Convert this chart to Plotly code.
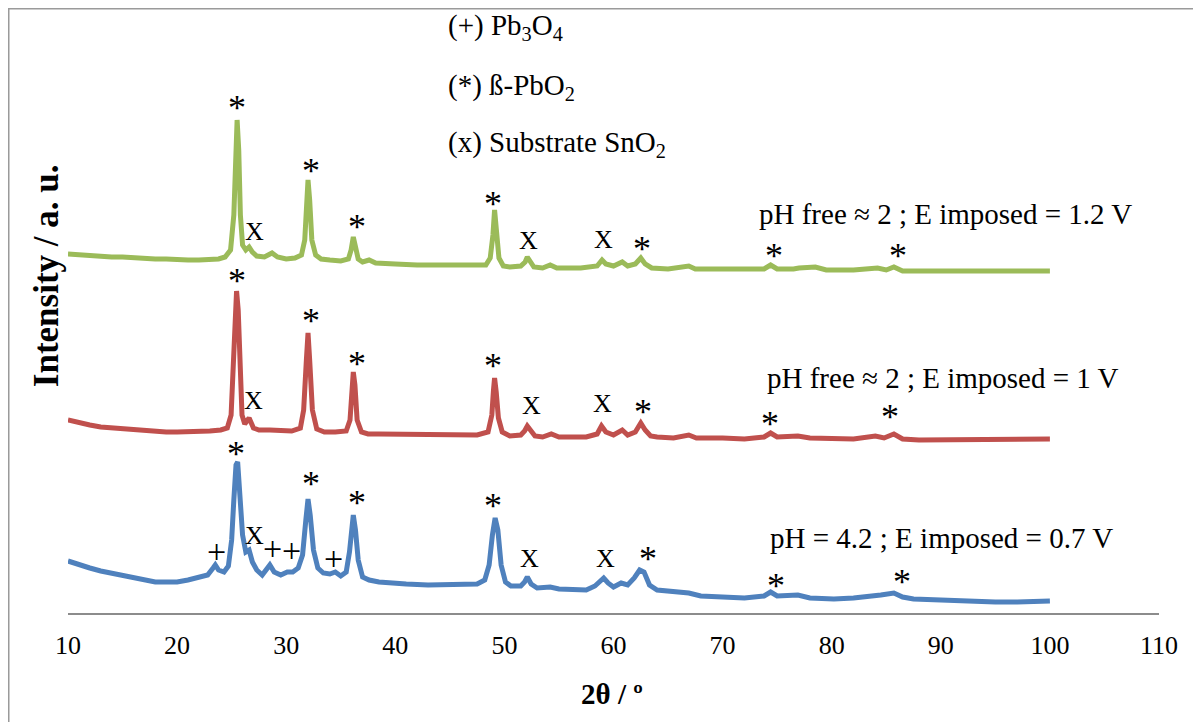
import plotly.graph_objects as go

# ---------------- data ----------------
# 2theta (deg) and intensity (a.u.) for each deposit
tt_green = [10.0, 11, 12, 13, 14, 15, 16, 17, 18, 19, 20, 21, 22, 23, 23.8, 24.4, 24.9, 25.2, 25.35, 25.5,
            25.65, 25.8, 26.0, 26.3, 26.6, 26.9, 27.3, 28.0, 28.7, 29.2, 30, 30.8, 31.4, 31.7, 31.9, 32.0,
            32.15, 32.35, 32.7, 33.2, 34, 35, 35.7, 35.95, 36.15, 36.35, 36.6, 37.0, 37.6, 38.2, 39, 40,
            42, 44, 46, 47, 48.3, 48.7, 48.95, 49.1, 49.25, 49.5, 49.9, 50.5, 51.5, 51.9, 52.1, 52.35,
            52.7, 53.5, 54.2, 54.8, 56, 57, 58.5, 58.95, 59.3, 60, 60.8, 61.3, 62.0, 62.5, 62.9, 63.5,
            65, 66.9, 67.5, 70, 72, 73.8, 74.4, 75, 76.5, 77, 78.5, 79.5, 82, 84.2, 85, 85.7, 86.5, 88,
            90, 93, 96, 98, 100]
int_green = [359, 358, 357, 357, 356, 356, 355, 355, 354, 354, 353, 353, 353, 354, 354, 356, 363, 398, 463, 493,
             463, 398, 368, 363, 366, 361, 357, 356, 360, 356, 354, 355, 358, 373, 413, 433,
             413, 373, 358, 354, 353, 352, 354, 363, 376, 363, 354, 351, 353, 350, 350, 349,
             348, 348, 347, 347, 348, 355, 378, 403, 378, 355, 347, 346, 347, 351, 356, 351,
             346, 345, 348, 345, 345, 345, 347, 353, 349, 347, 351, 347, 349, 355, 349, 345,
             344, 347, 344, 344, 343, 344, 348, 344, 344, 345, 346, 343, 343, 345, 343, 346, 342, 342,
             341, 341, 341, 341, 342]

tt_red = [10, 11, 12, 13, 14, 15, 16, 17, 18, 19, 20, 21, 22, 23, 24, 24.6, 24.95, 25.2, 25.35, 25.45,
          25.6, 25.75, 25.95, 26.2, 26.6, 27.0, 27.5, 28.5, 29.5, 30.5, 31.3, 31.6, 31.85, 32.0, 32.15,
          32.4, 32.8, 33.5, 34.5, 35.5, 35.85, 36.05, 36.15, 36.3, 36.5, 36.9, 37.5, 38.5, 40, 42, 44,
          46, 47.5, 48.5, 48.85, 49.0, 49.1, 49.25, 49.45, 49.8, 50.5, 51.5, 51.85, 52.1, 52.4, 52.8,
          53.5, 54.3, 55, 56, 57.5, 58.5, 58.9, 59.3, 60, 60.8, 61.3, 62.0, 62.5, 62.9, 63.4, 64, 65.5,
          66.9, 67.6, 70, 72, 73.8, 74.4, 75, 76.9, 78, 80, 82, 84, 84.8, 85.7, 86.5, 88, 90, 93, 96,
          98, 100]
int_red = [193, 190, 188, 186, 185, 184, 183, 182, 181, 181, 181, 181, 181, 182, 183, 185, 198, 253, 303, 322,
           303, 243, 198, 189, 195, 185, 183, 183, 182, 182, 185, 203, 253, 280, 253,
           203, 184, 181, 181, 182, 193, 228, 241, 228, 193, 181, 179, 179, 179, 178, 178,
           178, 178, 181, 198, 223, 235, 221, 195, 181, 177, 178, 182, 187, 182, 177,
           176, 179, 176, 176, 176, 179, 187, 181, 178, 183, 178, 181, 190, 183, 177, 176, 175,
           178, 175, 175, 174, 176, 180, 176, 177, 175, 174, 174, 177, 175, 179, 174, 173, 173, 173, 173,
           173, 174]

tt_blue = [10, 11, 12, 13, 14, 15, 16, 17, 18, 19, 20, 21, 22, 22.8, 23.3, 23.5, 23.8, 24.3, 24.7, 25.0,
           25.2, 25.4, 25.55, 25.75, 26.0, 26.3, 26.6, 26.9, 27.3, 27.8, 28.2, 28.5, 28.9, 29.5, 30.1,
           30.6, 31.1, 31.5, 31.8, 32.0, 32.2, 32.5, 32.9, 33.4, 34.0, 34.5, 35.0, 35.5, 35.8, 36.0,
           36.15, 36.35, 36.6, 37.0, 37.6, 38.5, 39.5, 41, 43, 45, 46.5, 47.5, 48.2, 48.6, 48.9, 49.15,
           49.4, 49.7, 50.1, 50.6, 51.5, 51.85, 52.1, 52.45, 53, 54.2, 55, 56.5, 57.5, 58.3, 58.8, 59.1,
           59.5, 60.0, 60.7, 61.3, 61.9, 62.4, 62.8, 63.3, 64, 65.5, 66.9, 68, 70, 72, 73.8, 74.4, 75,
           76.9, 78, 80.2, 82, 83.2, 84.5, 85.7, 86.5, 87.5, 89.4, 91, 93, 95, 97, 99, 100]
int_blue = [52, 48, 45, 42, 40, 38, 35, 33, 31, 31, 31, 33, 36, 38, 45, 48, 43, 41, 47, 73,
            113, 148, 151, 123, 78, 61, 63, 51, 43, 38, 43, 48, 41, 38, 41,
            41, 45, 58, 93, 114, 98, 63, 45, 40, 39, 41, 37, 41, 61, 91,
            98, 83, 53, 36, 33, 31, 30, 29, 28, 28, 28, 29, 33, 48, 78, 95,
            83, 48, 31, 27, 27, 31, 36, 29, 25, 26, 24, 23, 23, 27, 33, 35,
            30, 26, 30, 28, 35, 43, 41, 28, 23, 21, 20, 17, 16, 15, 17, 21, 17,
            18, 15, 14, 15, 16, 18, 20, 16, 14, 13, 12, 12, 11, 11, 11, 12]

# phase marks (position of each symbol)
mark_green_x = [25.5, 27.1, 32.3, 36.5, 49.0, 52.2, 59.1, 62.6, 74.7, 86.1]
mark_green_y = [505, 382, 442, 386, 409, 373, 374, 364, 357, 357]
mark_green_t = ["*", "X", "*", "*", "*", "X", "X", "*", "*", "*"]

mark_red_x = [25.5, 27.0, 32.3, 36.5, 49.0, 52.5, 59.0, 62.7, 74.3, 85.3]
mark_red_y = [332, 213, 292, 249, 247, 208, 210, 201, 189, 196]
mark_red_t = ["*", "X", "*", "*", "*", "X", "X", "*", "*", "*"]

mark_blue_x = [25.4, 27.1, 23.6, 28.7, 30.5, 34.3, 32.3, 36.5, 49.0, 52.3, 59.3, 63.2, 74.9, 86.4]
mark_blue_y = [159, 78, 62, 65, 63, 55, 129, 110, 107, 55, 55, 54, 27, 31]
mark_blue_t = ["*", "X", "+", "+", "+", "+", "*", "*", "*", "X", "X", "*", "*", "*"]

series_labels = ["pH free ≈ 2 ; E imposed = 1.2 V",
                 "pH free ≈ 2 ; E imposed = 1 V",
                 "pH = 4.2 ; E imposed = 0.7 V"]
series_label_x = [73.15, 73.9, 74.2]
series_label_y = [399, 235, 75]

legend_lines = ["(+) Pb<sub>3</sub>O<sub>4</sub>",
                "(*) ß-PbO<sub>2</sub>",
                "(x) Substrate SnO<sub>2</sub>"]
legend_x = 44.65
legend_y = [586, 526, 469]

x_ticks = [10, 20, 30, 40, 50, 60, 70, 80, 90, 100, 110]

GREEN = "#9BBB59"
RED = "#C0504D"
BLUE = "#4F81BD"
SERIF = "Liberation Serif"

fig = go.Figure()
for xs, ys, col in [(tt_green, int_green, GREEN), (tt_red, int_red, RED), (tt_blue, int_blue, BLUE)]:
    fig.add_trace(go.Scatter(x=xs, y=ys, mode="lines",
                             line=dict(color=col, width=5), showlegend=False, hoverinfo="skip"))

ann = []
for mx, my, mt in [(mark_green_x, mark_green_y, mark_green_t),
                   (mark_red_x, mark_red_y, mark_red_t),
                   (mark_blue_x, mark_blue_y, mark_blue_t)]:
    for x, y, t in zip(mx, my, mt):
        size = {"*": 36, "X": 26, "+": 34}[t]
        ann.append(dict(x=x, y=y, xref="x", yref="y", text=t, showarrow=False,
                        font=dict(family=SERIF, size=size, color="black"),
                        xanchor="center", yanchor="middle"))

for t, x, y in zip(series_labels, series_label_x, series_label_y):
    ann.append(dict(x=x, y=y, xref="x", yref="y", text=t, showarrow=False,
                    font=dict(family=SERIF, size=29, color="black"),
                    xanchor="left", yanchor="middle"))

for t, y in zip(legend_lines, legend_y):
    ann.append(dict(x=legend_x, y=y, xref="x", yref="y", text=t, showarrow=False,
                    font=dict(family=SERIF, size=29, color="black"),
                    xanchor="left", yanchor="middle"))

# axis titles
ann.append(dict(x=-0.0202, y=0.563, xref="paper", yref="paper", text="<b>Intensity / a. u.</b>",
                textangle=-90, showarrow=False, font=dict(family=SERIF, size=35, color="black"),
                xanchor="center", yanchor="middle"))
ann.append(dict(x=0.4986, y=-0.135, xref="paper", yref="paper", text="<b>2θ / º</b>",
                showarrow=False, font=dict(family=SERIF, size=29, color="black"),
                xanchor="center", yanchor="middle"))

fig.update_layout(
    width=1193, height=714,
    margin=dict(l=60, r=42, t=5, b=109),
    paper_bgcolor="white", plot_bgcolor="white",
    annotations=ann,
    shapes=[dict(type="rect", xref="paper", yref="paper",
                 x0=-0.0543, x1=1.0348, y0=-0.25, y1=1.0071,
                 line=dict(color="#9a9a9a", width=1.5), fillcolor="rgba(0,0,0,0)")],
    xaxis=dict(range=[10, 110], tickvals=x_ticks, ticktext=[str(v) for v in x_ticks],
               showline=True, linecolor="#8c8c8c", linewidth=1.5, ticks="",
               showgrid=False, zeroline=False, ticklabelstandoff=8,
               tickfont=dict(family=SERIF, size=26, color="black")),
    yaxis=dict(range=[0, 600], visible=False),
)

fig.write_html("out.html")
